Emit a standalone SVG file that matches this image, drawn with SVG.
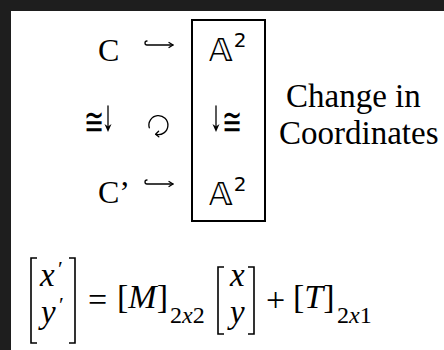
<svg xmlns="http://www.w3.org/2000/svg" width="444" height="350" viewBox="0 0 444 350">
<style>
.serif{font-family:"Liberation Serif","DejaVu Serif",serif;fill:#000}
.it{font-style:italic}
.sym{font-family:"DejaVu Sans","Noto Sans",sans-serif;fill:#000}
.ln{fill:none;stroke:#000;stroke-width:1.3;stroke-linecap:round;stroke-linejoin:round}
.br{fill:none;stroke:#000;stroke-width:1.6}
</style>
<rect x="0" y="0" width="444" height="350" fill="#1e1e1e"/>
<rect x="11" y="11" width="433" height="339" fill="#fff"/>

<g id="node-C"><text class="serif" x="98" y="61" font-size="32">C</text></g>
<g id="node-C2"><text class="serif" x="98" y="203" font-size="32">C’</text></g>
<g id="node-A2-box">
<rect x="192" y="20" width="73" height="201" fill="none" stroke="#000" stroke-width="2"/>
</g>
<g id="node-A2-top"><text class="sym" x="209" y="61" font-size="32">𝔸<tspan font-size="20" dx="1" dy="-14">2</tspan></text></g>
<g id="node-A2-bottom"><text class="sym" x="209" y="205" font-size="32">𝔸<tspan font-size="20" dx="1" dy="-14">2</tspan></text></g>
<g id="label-left-iso"><text class="sym" font-size="24" transform="translate(84,134.5) scale(1,1.6)">≅</text></g>
<g id="label-right-iso"><text class="sym" font-size="24" transform="translate(222,134.5) scale(1,1.6)">≅</text></g>
<g id="label-commutes">
<path class="ln" d="M149.3 127.8 A9.5 9.5 0 1 1 156 134.3" stroke-width="1"/>
<path class="ln" d="M158.6 131.2 L155.6 134.3 L158.8 136.8" stroke-width="1"/>
</g>
<g id="label-change"><text class="serif" x="286" y="107" font-size="33">Change in</text><text class="serif" x="279" y="144" font-size="33">Coordinates</text></g>

<g id="connectors">
<path class="ln" d="M147 41 A2 2 0 0 0 147 45 L173 45"/>
<path class="ln" d="M169 42.5 L173 45 L169 47.5"/>
<path class="ln" d="M147 180 A2 2 0 0 0 147 184 L173 184"/>
<path class="ln" d="M169 181.5 L173 184 L169 186.5"/>
<path class="ln" d="M108 106 L108 128"/>
<path d="M104.5 124 L108 132 L111.5 124 L108 126.5 Z" fill="#000"/>
<path class="ln" d="M216 106 L216 128"/>
<path d="M212.5 124 L216 132 L219.5 124 L216 126.5 Z" fill="#000"/>
</g>

<g id="equation">
<path class="br" d="M37 258 L31 258 L31 343 L37 343"/>
<path class="br" d="M69 258 L75 258 L75 343 L69 343"/>
<text class="serif" font-size="33"><tspan class="it" x="40" y="286">x</tspan><tspan font-size="22" x="58" y="276">′</tspan><tspan class="it" x="41" y="323">y</tspan><tspan font-size="22" x="59" y="312">′</tspan></text>
<text class="serif" x="88" y="311" font-size="34">=</text>
<text class="serif" x="117" y="308" font-size="34">[<tspan class="it">M</tspan>]</text>
<text class="serif" x="170" y="323" font-size="24">2<tspan class="it">x</tspan>2</text>
<path class="br" d="M224 267 L218 267 L218 334 L224 334"/>
<path class="br" d="M248 267 L254 267 L254 334 L248 334"/>
<text class="serif it" font-size="33"><tspan x="230" y="286">x</tspan><tspan x="230" y="323">y</tspan></text>
<text class="serif" x="266" y="311" font-size="34">+</text>
<text class="serif" x="293" y="308" font-size="34">[<tspan class="it">T</tspan>]</text>
<text class="serif" x="337" y="323" font-size="24">2<tspan class="it">x</tspan>1</text>
</g>
</svg>
